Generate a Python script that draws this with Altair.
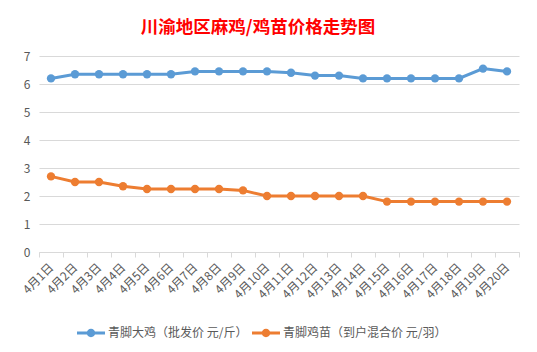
import altair as alt
import pandas as pd

dates = [f"4月{i}日" for i in range(1, 21)]
series_names = ["青脚大鸡（批发价 元/斤）", "青脚鸡苗（到户混合价 元/羽）"]
adult_price = [6.2, 6.35, 6.35, 6.35, 6.35, 6.35, 6.45, 6.45, 6.45, 6.45,
               6.4, 6.3, 6.3, 6.2, 6.2, 6.2, 6.2, 6.2, 6.55, 6.45]
chick_price = [2.7, 2.5, 2.5, 2.35, 2.25, 2.25, 2.25, 2.25, 2.2, 2.0,
               2.0, 2.0, 2.0, 2.0, 1.8, 1.8, 1.8, 1.8, 1.8, 1.8]
colors = ["#5B9BD5", "#ED7D31"]

rows = []
for d, v in zip(dates, adult_price):
    rows.append({"date": d, "series": series_names[0], "value": v})
for d, v in zip(dates, chick_price):
    rows.append({"date": d, "series": series_names[1], "value": v})
df = pd.DataFrame(rows)

FONT = "Noto Sans CJK SC"
legend_path = ("M-1,-0.11H-0.27V0.11H-1Z "
               "M0.27,-0.11H1V0.11H0.27Z "
               "M0.3,0A0.3,0.3 0 1,1 -0.3,0A0.3,0.3 0 1,1 0.3,0Z")

x = alt.X("date:N", sort=dates, title=None,
          scale=alt.Scale(type="band", paddingInner=0, paddingOuter=0),
          axis=alt.Axis(labelAngle=-45, labelAlign="right", labelBaseline="middle",
                        labelFont=FONT, labelFontSize=12, labelColor="#595959",
                        labelPadding=8, tickBand="extent", tickColor="#D9D9D9",
                        tickSize=5, domainColor="#D9D9D9", grid=False))
y = alt.Y("value:Q", title=None,
          scale=alt.Scale(domain=[0, 7], nice=False),
          axis=alt.Axis(values=[0, 1, 2, 3, 4, 5, 6, 7], labelFont=FONT,
                        labelFontSize=12, labelColor="#595959", labelPadding=9,
                        ticks=False, domain=False, gridColor="#D9D9D9"))
color = alt.Color("series:N", sort=series_names,
                  scale=alt.Scale(domain=series_names, range=colors),
                  legend=alt.Legend(title=None, orient="none", direction="horizontal",
                                    legendX=38, legendY=263,
                                    symbolType=legend_path, symbolSize=784,
                                    symbolStrokeWidth=0, labelFont=FONT,
                                    labelFontSize=12, labelColor="#595959",
                                    labelLimit=400,
                                    labelOffset=3, columnPadding=4))

base = alt.Chart(df).encode(x=x, y=y, color=color)
lines = base.mark_line(strokeWidth=3)
points = base.mark_point(filled=True, size=70, opacity=1)

chart = (lines + points).properties(
    width=480, height=196,
    title=alt.TitleParams("川渝地区麻鸡/鸡苗价格走势图", font=FONT, fontSize=17.5,
                          fontWeight="bold", color="#FF0000", anchor="middle",
                          dx=-21, offset=14),
    autosize=alt.AutoSizeParams(type="none"),
    padding={"left": 39, "top": 56, "right": 18, "bottom": 100},
    background="white",
).configure_view(stroke=None)

chart.save("out.html", embed_options={"renderer": "svg", "actions": False})
